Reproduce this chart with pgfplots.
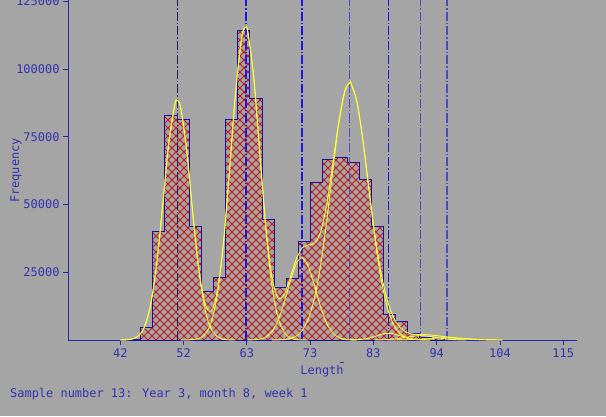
\documentclass[border=0pt]{standalone}
\usepackage{fontspec}
\setmainfont{DejaVu Sans Mono}
\usepackage{pgfplots}
\pgfplotsset{compat=1.18}
\usetikzlibrary{patterns}
\definecolor{bg}{RGB}{165,165,165}
\definecolor{axblue}{RGB}{40,40,170}
\definecolor{txtblue}{RGB}{50,50,175}
\definecolor{hatchred}{RGB}{195,25,25}
\definecolor{barblue}{RGB}{20,20,160}
\definecolor{curve}{RGB}{255,255,60}
\definecolor{vdark}{RGB}{30,30,90}
\definecolor{vblue}{RGB}{25,25,225}
\definecolor{vmid}{RGB}{75,75,185}

\pgfdeclarepatternformonly{xhatch}{\pgfpoint{-1bp}{-1bp}}{\pgfpoint{9bp}{9bp}}{\pgfpoint{8bp}{8bp}}{%
  \pgfsetlinewidth{0.75bp}%
  \pgfpathmoveto{\pgfpoint{-0.5bp}{-0.5bp}}\pgfpathlineto{\pgfpoint{8.5bp}{8.5bp}}%
  \pgfpathmoveto{\pgfpoint{-0.5bp}{8.5bp}}\pgfpathlineto{\pgfpoint{8.5bp}{-0.5bp}}%
  \pgfusepath{stroke}}

\pgfplotstableread{
x y
43.36 300
45.36 4700
47.36 40000
49.36 83100
51.36 81300
53.36 42100
55.36 18100
57.36 23200
59.36 81600
61.36 114300
63.36 89100
65.36 44400
67.36 19500
69.36 22800
71.36 36500
73.36 58100
75.36 66500
77.36 67500
79.36 65500
81.36 59400
83.36 42000
85.36 9300
87.36 6800
89.36 2300
91.36 1000
93.36 400
95.36 0
}\hist

\pgfplotstableread{
x y
42 14
43 83
44 397
45 1550
46 4967
47 13080
48 28260
49 50100
50 72920
51 87110
51.4 88500
52 85414
53 68757
54 45533
55 25219
56 13187
57 10753
58 18198
59 36015
60 62699
61 91610
62 111803
62.6 115509
63 113857
64 96804
65 68899
66 41686
67 23188
68 15539
69 16782
70 23036
71 29924
71.9 33865
72 34120
73 35119
74 35680
75 39830
76 49949
77 64940
78 80727
79 92054
79.8 95099
80 94882
81 88017
82 73517
83 55490
84 38193
85 24353
86 14674
87 8492
88 4854
89 2973
90 2224
91 2042
92 1996
93 1870
94 1638
95 1372
96 1115
97 880
98 665
99 471
100 305
101 178
102 94
103 45
104 19
105 7
}\total

\begin{document}
\begin{tikzpicture}[x=1bp,y=1bp]
\fill[bg] (0,0) rectangle (606,416);
\useasboundingbox (0,0) rectangle (606,416);
\begin{axis}[
  at={(68bp,76bp)}, anchor=south west,
  width=509.3bp, height=343.8bp, scale only axis,
  xmin=33.38, xmax=117.31, ymin=0, ymax=127000,
  axis x line=bottom, axis y line=left,
  axis line style={-, axblue, line width=1bp},
  tick align=outside, major tick length=5bp,
  tick style={axblue, line width=1bp},
  xtick={42,52.4286,62.8571,73.2857,83.7143,94.1429,104.5714,115},
  xticklabels={42,52,63,73,83,94,104,115},
  ytick={25000,50000,75000,100000,125000},
  yticklabels={25000,50000,75000,100000,125000},
  tick label style={font=\fontsize{12}{12}\selectfont, text=txtblue},
  /pgf/number format/assume math mode=true,
  clip=true,
  every axis plot/.append style={mark=none},
]
\addplot[const plot, draw=barblue, line width=1bp, pattern=xhatch, pattern color=hatchred] table {\hist} \closedcycle;

\addplot[vdark, line width=1bp, dash pattern=on 9bp off 2bp on 1.5bp off 2bp] coordinates {(51.43,0) (51.43,130000)};
\addplot[vblue, line width=1.2bp, dash pattern=on 9bp off 2bp on 1.5bp off 2bp] coordinates {(62.7,0) (62.7,130000)};
\addplot[vblue, line width=1.2bp, dash pattern=on 9bp off 2bp on 1.5bp off 2bp] coordinates {(71.94,0) (71.94,130000)};
\addplot[vmid, line width=1.6bp, dash pattern=on 9bp off 2bp on 1.5bp off 2bp] coordinates {(79.77,0) (79.77,130000)};
\addplot[vblue, line width=1.2bp, dash pattern=on 9bp off 2bp on 1.5bp off 2bp] coordinates {(86.17,0) (86.17,130000)};
\addplot[vmid, line width=1.3bp, dash pattern=on 9bp off 2bp on 1.5bp off 2bp] coordinates {(91.5,0) (91.5,130000)};
\addplot[vmid, line width=1.6bp, dash pattern=on 9bp off 2bp on 1.5bp off 2bp] coordinates {(95.79,0) (95.79,130000)};

% components
\addplot[curve, line width=0.9bp, smooth] coordinates {(42,14)(43,83)(44,397)(45,1550)(46,4967)(47,13080)(48,28260)(49,50100)(50,72920)(51,87110)(51.4,88500)(52,85410)(53,68730)(54,45390)(55,24600)(56,10950)(57,4000)(58,1198)(59,295)(60,59)(61,10)};
\addplot[curve, line width=0.9bp, smooth] coordinates {(52,4)(53,27)(54,143)(55,619)(56,2237)(57,6753)(58,17000)(59,35720)(60,62640)(61,91600)(62,111800)(62.6,115500)(63,113840)(64,96720)(65,68560)(66,40550)(67,20020)(68,8242)(69,2832)(70,812)(71,194)(72,39)(73,6)};
\addplot[curve, line width=0.9bp, smooth] coordinates {(63,17)(64,84)(65,339)(66,1136)(67,3154)(68,7244)(69,13770)(70,21680)(71,28250)(71.9,30500)(72,30470)(73,27200)(74,20100)(75,12300)(76,6229)(77,2610)(78,906)(79,260)(80,62)(81,12)};
\addplot[curve, line width=0.9bp, smooth] coordinates {(67,14)(68,53)(69,180)(70,544)(71,1480)(72,3611)(73,7913)(74,15580)(75,27530)(76,43720)(77,62330)(78,79820)(79,91790)(79.8,95000)(80,94800)(81,87920)(82,73240)(83,54790)(84,36810)(85,22210)(86,12040)(87,5856)(88,2559)(89,1004)(90,354)(91,112)(92,32)(93,8)};
\addplot[curve, line width=0.9bp, smooth] coordinates {(80,20)(81,85)(82,276)(83,695)(84,1365)(85,2088)(86,2488)(87,2308)(88,1668)(89,938)(90,411)(91,140)(92,37)(93,8)};
\addplot[curve, line width=0.9bp, smooth] coordinates {(84,18)(85,54)(86,142)(87,317)(88,600)(89,970)(90,1336)(91,1568)(92,1568)(93,1336)(94,970)(95,600)(96,317)(97,142)(98,54)(99,18)};
\addplot[curve, line width=0.9bp, smooth] coordinates {(86,4)(87,11)(88,27)(89,61)(90,123)(91,222)(92,359)(93,518)(94,668)(95,772)(96,798)(97,738)(98,611)(99,453)(100,300)(101,178)(102,94)(103,45)(104,19)(105,7)};
% total
\addplot[curve, line width=0.9bp, smooth] table {\total};
\end{axis}
\node[rotate=90, text=txtblue, font=\fontsize{12}{12}\selectfont, inner sep=0pt] at (16,245.5) {Frequency};
\node[text=txtblue, font=\fontsize{12}{12}\selectfont, inner sep=0pt] at (322,44.3) {Length};
\fill[txtblue] (339.5,53) rectangle (344,54.2);
\node[text=txtblue, font=\fontsize{12}{12}\selectfont, inner sep=0pt, anchor=base west] at (10,19) {Sample number 13: Year 3, month 8, week 1};
\end{tikzpicture}
\end{document}
